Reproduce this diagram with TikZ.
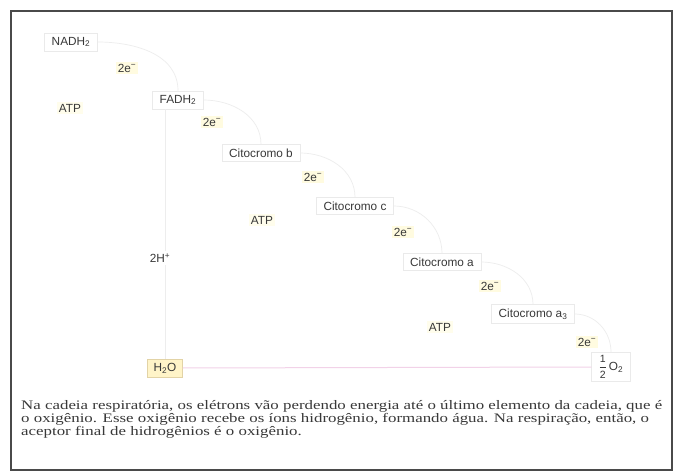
\documentclass[tikz,border=0pt]{standalone}
\usepackage{fontspec}
\usepackage{graphicx}
\setmainfont{Liberation Serif}
\newfontfamily\labfont{Liberation Sans}
\usetikzlibrary{arrows.meta}
\definecolor{ink}{HTML}{383838}
\definecolor{framecol}{HTML}{4A4A4A}
\definecolor{faint}{HTML}{EDEDED}
\definecolor{boxline}{HTML}{EAEAEA}
\definecolor{pinkline}{HTML}{F2D2E8}
\definecolor{glow}{HTML}{FFFBE0}
\definecolor{waterfill}{HTML}{FFF4C8}
\definecolor{waterline}{HTML}{E2D3A6}
\newlength\capw
\newcommand\lineA{Na cadeia respiratória, os elétrons vão perdendo energia até o último elemento da cadeia, que é}
\newcommand\lineB{o oxigênio. Esse oxigênio recebe os íons hidrogênio, formando água. Na respiração, então, o}
\newcommand\lineC{aceptor final de hidrogênios é o oxigênio.}
\newcommand\capfont{\fontsize{13}{13}\selectfont}
\newcommand\fracfont{\labfont\fontsize{10.5}{10.5}\selectfont}
\begin{document}
\settowidth{\capw}{\capfont\lineA}%
\pgfmathsetmacro{\capsx}{641/\capw}%
\begin{tikzpicture}[x=1pt,y=-1pt,
  lbl/.style={font=\labfont\fontsize{11.8}{13}\selectfont, text=ink, inner sep=2pt},
  carrier/.style={lbl, fill=white, draw=boxline, line width=0.6pt, inner xsep=7pt, inner ysep=4pt},
  elec/.style={lbl, fill=glow},
  atp/.style={lbl, fill=glow!60},
  plain/.style={lbl, fill=white},
  water/.style={lbl, fill=waterfill, draw=waterline, line width=0.6pt, inner xsep=6pt, inner ysep=4pt},
  flow/.style={draw=faint, line width=0.7pt},
  caption/.style={anchor=base west, inner sep=0pt, text=ink}]
\useasboundingbox (0,0) rectangle (683,473);
\fill[white] (0,0) rectangle (683,473);
\draw[framecol, line width=1.3pt] (11,11) rectangle (672,470);

% carriers of the chain
\node[carrier] (nadh) at (71,42) {NADH\textsubscript{2}};
\node[carrier] (fadh) at (178,100) {FADH\textsubscript{2}};
\node[carrier] (citb) at (261,153) {Citocromo b};
\node[carrier] (citc) at (355,206) {Citocromo c};
\node[carrier] (cita) at (442,262) {Citocromo a};
\node[carrier] (cita3) at (533,314) {Citocromo a\textsubscript{3}};
\node[carrier, inner ysep=3pt] (o2) at (611,367) {$\displaystyle\frac{\hbox{\fracfont 1}}{\hbox{\fracfont 2}}$\,O\textsubscript{2}};
\node[water] (h2o) at (165,368) {H\textsubscript{2}O};

% faint transfer arcs between carriers
\draw[flow] (nadh.east) to[out=0,in=90] (fadh.north);
\draw[flow] (fadh.east) to[out=0,in=90] (citb.north);
\draw[flow] (citb.east) to[out=0,in=90] (citc.north);
\draw[flow] (citc.east) to[out=0,in=90] (cita.north);
\draw[flow] (cita.east) to[out=0,in=90] (cita3.north);
\draw[flow] (cita3.east) to[out=0,in=90] (o2.north);

% hydrogen ions and water formation
\draw[faint, line width=0.8pt] (h2o.north) -- (h2o.north |- fadh.south);
\draw[pinkline, line width=1pt] (h2o.east) -- (o2.west);

% electron pairs
\node[elec] (e1) at (127,68) {2e\textsuperscript{−}};
\node[elec] (e2) at (212,122) {2e\textsuperscript{−}};
\node[elec] (e3) at (313,177) {2e\textsuperscript{−}};
\node[elec] (e4) at (403,232) {2e\textsuperscript{−}};
\node[elec] (e5) at (490,286) {2e\textsuperscript{−}};
\node[elec] (e6) at (587,342) {2e\textsuperscript{−}};

% ATP produced and protons
\node[atp] (atp1) at (70,108) {ATP};
\node[atp] (atp2) at (262,220) {ATP};
\node[atp] (atp3) at (440,327) {ATP};
\node[plain] (hplus) at (160,258) {2H\textsuperscript{+}};

% caption
\node[caption] (cap1) at (21,409) {\scalebox{\capsx}[1]{\capfont\lineA}};
\node[caption] (cap2) at (21,422) {\scalebox{\capsx}[1]{\capfont\lineB}};
\node[caption] (cap3) at (21,435) {\scalebox{\capsx}[1]{\capfont\lineC}};
\end{tikzpicture}
\end{document}
